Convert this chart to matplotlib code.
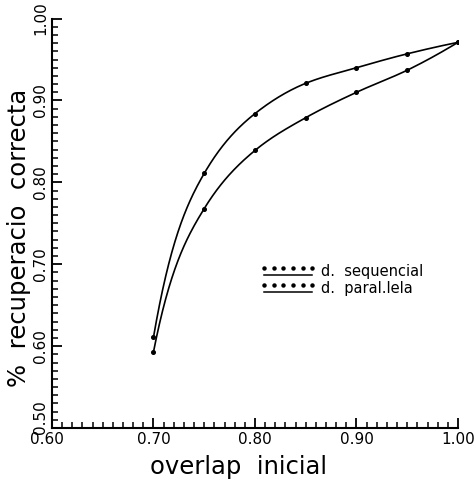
import numpy as np
import matplotlib
matplotlib.use("Agg")
import matplotlib.pyplot as plt
import matplotlib.transforms as mtransforms
from matplotlib.lines import Line2D
from matplotlib.legend_handler import HandlerBase
from matplotlib.ticker import MultipleLocator

# Overlap values and recovery rates for the two decoding schemes
overlap = [0.70, 0.75, 0.80, 0.85, 0.90, 0.95, 1.00]
seq_recovery = [0.611, 0.811, 0.884, 0.921, 0.940, 0.957, 0.971]
par_recovery = [0.593, 0.768, 0.839, 0.879, 0.910, 0.937, 0.971]
series_labels = ["d.  sequencial", "d.  paral.lela"]
x_ticks = [0.60, 0.70, 0.80, 0.90, 1.00]
y_ticks = [0.50, 0.60, 0.70, 0.80, 0.90, 1.00]


def smooth(x, y, n=300, start_gain=1.8):
    """Cubic Hermite curve through the points: Fritsch-Carlson slopes
    inside, a steeper opening slope and a three-point closing slope."""
    x = np.asarray(x, float)
    y = np.asarray(y, float)
    h = np.diff(x)
    d = np.diff(y) / h
    m = np.zeros_like(y)
    for k in range(1, len(x) - 1):
        if d[k - 1] * d[k] > 0:
            w1 = 2 * h[k] + h[k - 1]
            w2 = h[k] + 2 * h[k - 1]
            m[k] = (w1 + w2) / (w1 / d[k - 1] + w2 / d[k])
    m[0] = min(start_gain * d[0], 3 * d[0])
    s = ((2 * h[-1] + h[-2]) * d[-1] - h[-1] * d[-2]) / (h[-1] + h[-2])
    m[-1] = min(max(s, 0.0), 3 * d[-1])
    xs = np.linspace(x[0], x[-1], n)
    idx = np.clip(np.searchsorted(x, xs) - 1, 0, len(x) - 2)
    t = (xs - x[idx]) / h[idx]
    h00 = 2 * t**3 - 3 * t**2 + 1
    h10 = t**3 - 2 * t**2 + t
    h01 = -2 * t**3 + 3 * t**2
    h11 = t**3 - t**2
    ys = (h00 * y[idx] + h10 * h[idx] * m[idx]
          + h01 * y[idx + 1] + h11 * h[idx] * m[idx + 1])
    return xs, ys


class DotsOverLine(HandlerBase):
    """Legend key: a row of dots above a solid rule."""
    def create_artists(self, legend, orig_handle, xdescent, ydescent,
                       width, height, fontsize, trans):
        xs = np.linspace(0, width, 6) - xdescent
        dots = Line2D(xs, [height * 0.75 - ydescent] * len(xs), ls="none",
                      marker="o", ms=2.2, color="black", transform=trans)
        rule = Line2D([-xdescent, width - xdescent],
                      [height * 0.05 - ydescent] * 2, color="black",
                      lw=1.1, transform=trans)
        return [dots, rule]


plt.rcParams["font.family"] = ["DejaVu Sans"]
fig = plt.figure(figsize=(4.74, 4.82), dpi=100)
ax = fig.add_axes([0.1097, 0.112, 0.8565, 0.8494])

handles = []
for vals, lab in zip([seq_recovery, par_recovery], series_labels):
    xs, ys = smooth(overlap, vals)
    ax.plot(xs, ys, color="black", lw=1.2)
    ax.plot(overlap, vals, ls="none", marker="o", ms=2.6, color="black")
    handles.append(Line2D([], [], color="black", label=lab))

ax.set_xlim(0.60, 1.00)
ax.set_ylim(0.50, 1.00)
ax.set_xticks(x_ticks)
ax.set_yticks(y_ticks)
ax.set_xticklabels([f"{v:.2f}" for v in x_ticks], fontsize=11)
ax.set_yticklabels([f"{v:.2f}" for v in y_ticks], fontsize=11,
                   rotation=90, va="center")
ax.xaxis.set_minor_locator(MultipleLocator(0.01))
ax.yaxis.set_minor_locator(MultipleLocator(0.01))
ax.tick_params(which="major", direction="in", length=7, width=1.3, pad=3)
ax.tick_params(which="minor", direction="in", length=4, width=1.1)

# nudge the corner labels apart so they do not collide
ylabs = ax.get_yticklabels()
ylabs[0].set_transform(ylabs[0].get_transform()
                       + mtransforms.ScaledTranslation(0, 8 / 72,
                                                       fig.dpi_scale_trans))
xlabs = ax.get_xticklabels()
xlabs[0].set_transform(xlabs[0].get_transform()
                       + mtransforms.ScaledTranslation(-4 / 72, 0,
                                                       fig.dpi_scale_trans))

for side in ("top", "right"):
    ax.spines[side].set_visible(False)
for side in ("left", "bottom"):
    ax.spines[side].set_linewidth(1.5)

ax.set_xlabel("overlap  inicial", fontsize=17.5)
ax.set_ylabel("%  recuperacio  correcta", fontsize=17.5)
ax.xaxis.set_label_coords(0.46, -0.065)
ax.yaxis.set_label_coords(-0.052, 0.465)

ax.legend(handles=handles, handler_map={Line2D: DotsOverLine()},
          loc="center left", bbox_to_anchor=(0.49, 0.362), frameon=False,
          fontsize=10.5, handlelength=3.3, handletextpad=0.6,
          labelspacing=0.15)

fig.savefig("out.png", dpi=100)
